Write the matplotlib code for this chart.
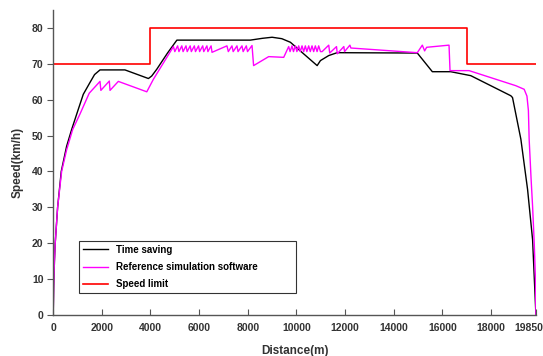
import matplotlib
matplotlib.use("Agg")
import matplotlib.pyplot as plt
import matplotlib.transforms as mtransforms

plt.rcParams['font.family'] = ['Liberation Sans', 'DejaVu Sans']

# Speed limit
limit_x = [0, 4000, 4000, 17000, 17000, 19850]
limit_y = [70, 70, 80, 80, 70, 70]

# Time saving
ts_x = [0, 20, 50, 82, 181, 330, 550, 758, 1030, 1236, 1512, 1700, 1924, 2950,
        3915, 4050, 4260, 4700, 5085, 8105, 8600, 9000, 9400, 9753, 10853, 10989,
        11330, 11676, 14972, 15590, 16345, 17170, 18817, 18887, 19230, 19506,
        19712, 19850]
ts_y = [0, 8, 15, 20, 30, 40, 47, 51.7, 57.3, 61.5, 64.8, 67.0, 68.3, 68.3,
        65.9, 66.6, 68.5, 73.0, 76.6, 76.6, 77.1, 77.4, 77.0, 76.0, 69.5, 70.9,
        72.3, 73.1, 73.0, 67.8, 67.8, 66.7, 61.1, 60.6, 49.0, 35.0,
        21.0, 0]

# Reference simulation software
ref_x = [0, 20, 50, 82, 181, 346, 550, 800, 1100, 1480, 1924, 1960, 2307, 2336,
         2678, 3848, 4120, 4944,
         5000, 5116, 5170, 5288, 5340, 5460, 5510, 5632, 5680, 5804, 5850, 5976,
         6020, 6148, 6190, 6320, 6360, 6492, 6530,
         7144, 7200, 7350, 7400, 7556, 7600, 7762, 7810, 7940, 7990, 8175, 8240,
         8860, 9478, 9683,
         9740, 9820, 9880, 9957, 10020, 10094, 10160, 10231, 10300, 10368, 10430,
         10505, 10570, 10642, 10710, 10779, 10850, 10916, 10990, 11058,
         11330, 11370, 11650, 11680, 11950, 11980, 12200, 12240,
         14972, 15178, 15273, 15355, 16276, 16317, 17100, 19023, 19366, 19480,
         19540, 19571, 19650, 19712, 19780, 19830, 19850]
ref_y = [0, 8, 15, 20, 30, 40, 46, 51.7, 56, 61.8, 65.1, 62.6, 65.2, 62.6,
         65.1, 62.2, 65.7, 74.8,
         73.4, 75.0, 73.4, 75.0, 73.4, 75.0, 73.4, 75.0, 73.4, 75.0, 73.4, 75.0,
         73.4, 75.0, 73.4, 75.0, 73.4, 75.0, 73.2,
         75.0, 73.4, 75.0, 73.4, 75.0, 73.4, 75.0, 73.4, 75.0, 73.4, 75.1, 69.5,
         72.0, 71.8, 74.8,
         73.4, 75.0, 73.4, 75.0, 73.4, 75.0, 73.4, 75.0, 73.4, 75.0, 73.4,
         75.0, 73.4, 75.0, 73.4, 75.0, 73.4, 75.0, 73.4, 73.4,
         75.2, 73.0, 74.8, 72.8, 74.8, 73.4, 75.2, 74.4,
         73.1, 75.2, 73.6, 74.6, 75.2, 68.1, 68.1, 63.9, 62.9, 61.0,
         57.0, 49.0, 38.0, 30.3, 20.0, 10.0, 0]

x_ticks = [0, 2000, 4000, 6000, 8000, 10000, 12000, 14000, 16000, 18000, 19850]
y_ticks = [0, 10, 20, 30, 40, 50, 60, 70, 80]

fig = plt.figure(figsize=(5.43, 3.56), dpi=100)
ax = fig.add_axes([0.098, 0.115, 0.889, 0.857])

ax.plot(ts_x, ts_y, color='black', lw=1.0, label='Time saving')
ax.plot(ref_x, ref_y, color='#ff00ff', lw=1.0, label='Reference simulation software')
ax.plot(limit_x, limit_y, color='#ff0000', lw=1.2, label='Speed limit')

ax.set_xlim(0, 19850)
ax.set_ylim(0, 85)
ax.set_xticks(x_ticks)
ax.set_yticks(y_ticks)
ax.set_xticklabels([str(t) for t in x_ticks])

for s in ['top', 'right']:
    ax.spines[s].set_visible(False)
for s in ['left', 'bottom']:
    ax.spines[s].set_color('#555555')
    ax.spines[s].set_linewidth(1.0)

ax.tick_params(axis='x', direction='in', length=4, color='#555555',
               labelsize=7.5, labelcolor='#333333', pad=6)
ax.tick_params(axis='y', direction='out', length=4, color='#555555',
               labelsize=7.5, labelcolor='#333333', pad=3)
for lab in ax.get_xticklabels() + ax.get_yticklabels():
    lab.set_fontweight('bold')

# keep the last x tick label inside the figure
last = ax.get_xticklabels()[-1]
last.set_horizontalalignment('right')
last.set_transform(last.get_transform() +
                   mtransforms.ScaledTranslation(7 / 100, 0, fig.dpi_scale_trans))

ax.set_xlabel('Distance(m)', fontsize=8.5, fontweight='bold', color='#333333', labelpad=8)
ax.set_ylabel('Speed(km/h)', fontsize=8.5, fontweight='bold', color='#333333', labelpad=6)

leg = ax.legend(loc='lower left', bbox_to_anchor=(0.053, 0.072, 0.45, 0.19),
                mode='expand', fancybox=False, frameon=True, handlelength=2.6,
                prop={'weight': 'bold', 'size': 7}, borderaxespad=0,
                labelspacing=0.75, borderpad=0.4)
leg.get_frame().set_edgecolor('black')
leg.get_frame().set_linewidth(0.8)

fig.savefig('out.png', dpi=100)
